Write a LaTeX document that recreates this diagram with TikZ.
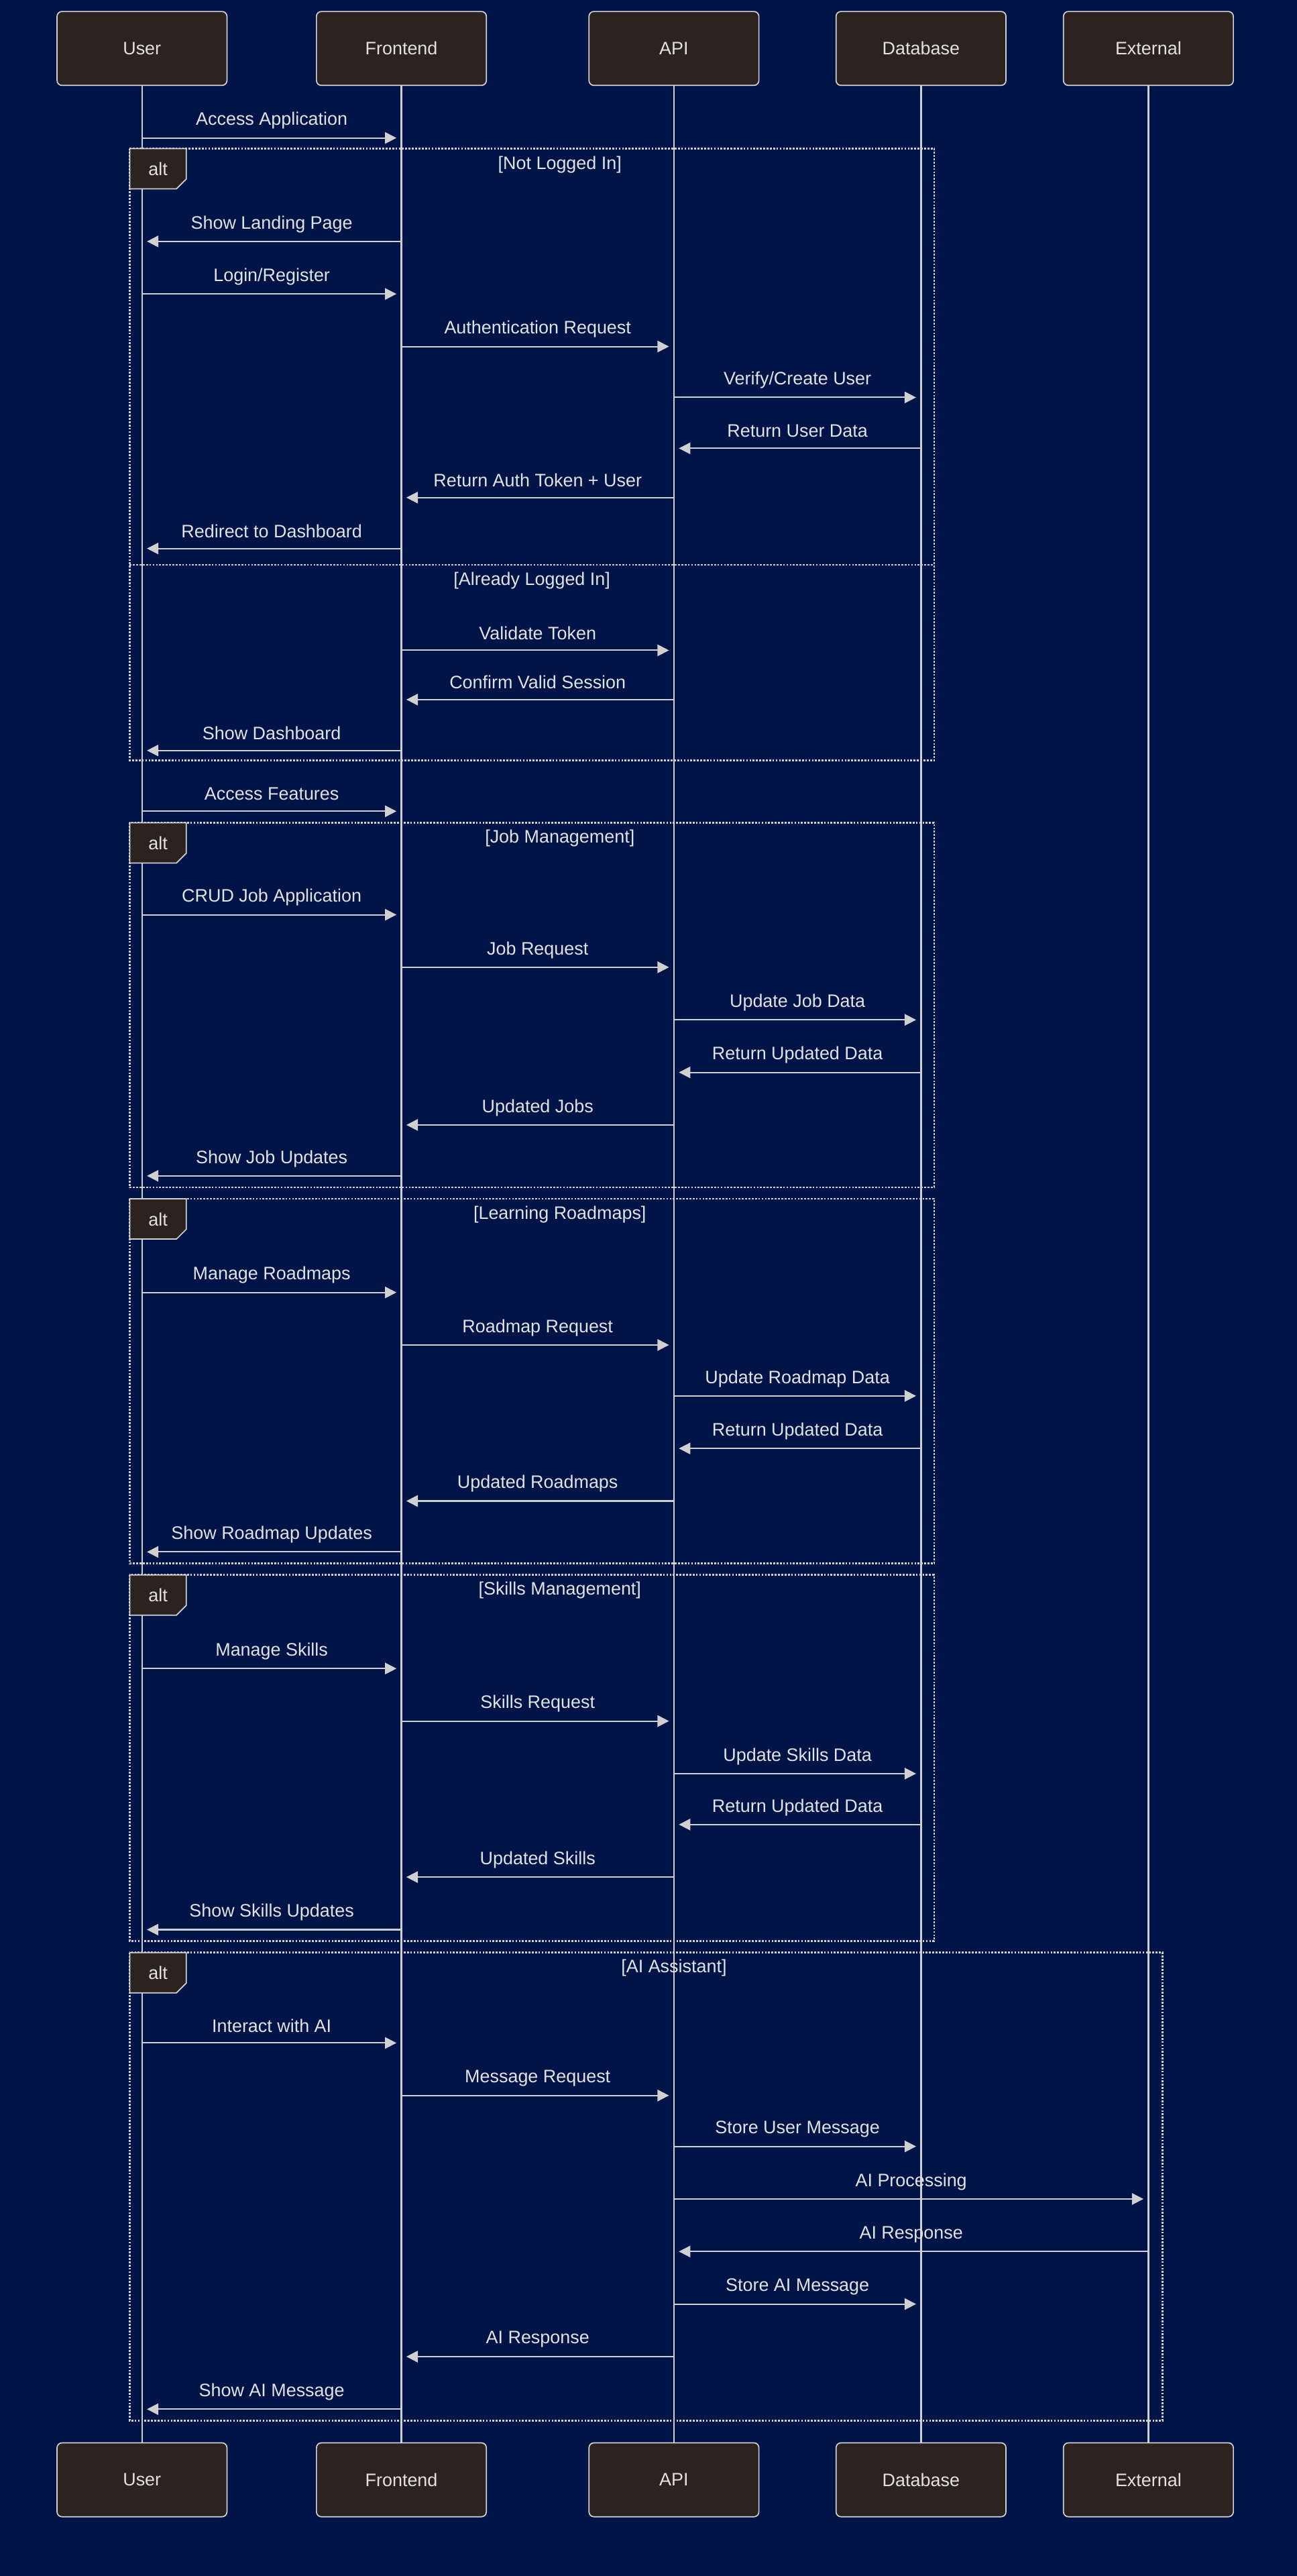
\documentclass[tikz,border=0pt]{standalone}
\usepackage{fontspec}
\setmainfont{Liberation Sans}
\usetikzlibrary{arrows.meta}
\definecolor{bg}{RGB}{1,20,72}
\definecolor{boxfill}{RGB}{44,34,32}
\definecolor{ln}{RGB}{208,208,208}
\definecolor{txt}{RGB}{226,226,226}
\newcommand\seqmsg[5]{%
  \coordinate (#5) at (0,#3);
  \draw[msgline] (#1 |- #5) -- (#2 |- #5) node[lbl, midway, yshift=10.5pt] (#5l) {#4};}
\newcommand\altframe[4]{% name, top, bottom, right
  \draw[frm] (79,#2) rectangle (#4,#3);
  \draw[altbox] (79,#2) -- (113.5,#2) -- (113.5,#2+18.5) -- (107.5,#2+24.5) -- (79,#2+24.5) -- cycle;
  \node[lbl] (#1) at (96.25,#2+12.5) {alt};}
\begin{document}
\begin{tikzpicture}[x=1pt,y=-1pt,
  part/.style={draw=ln, fill=boxfill, rounded corners=3pt, minimum width=103.5pt, minimum height=45pt, text=txt, font=\fontsize{11}{13}\selectfont, line width=0.7pt, inner sep=0pt},
  life/.style={draw=ln, line width=0.95pt},
  msgline/.style={draw=ln, line width=0.85pt, -{Triangle[length=7pt,width=7pt]}, shorten >=3pt},
  lbl/.style={text=txt, font=\fontsize{11}{13}\selectfont, inner sep=0pt},
  frm/.style={draw=ln, line width=1.1pt, dash pattern=on 1.1pt off 0.9pt},
  altbox/.style={draw=ln, fill=boxfill, line width=0.7pt}]
\fill[bg] (0,0) rectangle (790,1568.6);
\useasboundingbox (0,0) rectangle (790,1568.6);
% participants
\node[part] (uT) at (86.5,29.5) {User};
\node[part] (fT) at (244.5,29.5) {Frontend};
\node[part] (aT) at (410.5,29.5) {API};
\node[part] (dT) at (561,29.5) {Database};
\node[part] (eT) at (699.5,29.5) {External};
\node[part] (uB) at (86.5,1510) {User};
\node[part] (fB) at (244.5,1510) {Frontend};
\node[part] (aB) at (410.5,1510) {API};
\node[part] (dB) at (561,1510) {Database};
\node[part] (eB) at (699.5,1510) {External};
\foreach \p in {u,f,a,d,e}{\draw[life] (\p T.south) -- (\p B.north);}
% frames
\altframe{alt1}{90.5}{463}{569}
\draw[frm] (79,344) -- (569,344);
\node[lbl] (g1) at (341,100.5) {[Not Logged In]};
\node[lbl] (g1b) at (324,353.5) {[Already Logged In]};
\altframe{alt2}{501}{723}{569}
\node[lbl] (g2) at (341,510.5) {[Job Management]};
\altframe{alt3}{730}{952}{569}
\node[lbl] (g3) at (341,739.5) {[Learning Roadmaps]};
\altframe{alt4}{959}{1182}{569}
\node[lbl] (g4) at (341,968.5) {[Skills Management]};
\altframe{alt5}{1189}{1474}{708}
\node[lbl] (g5) at (410.5,1198.5) {[AI Assistant]};
% messages
\seqmsg{uT}{fT}{84}{Access Application}{m1}
\seqmsg{fT}{uT}{147}{Show Landing Page}{m2}
\seqmsg{uT}{fT}{179}{Login/Register}{m3}
\seqmsg{fT}{aT}{211}{Authentication Request}{m4}
\seqmsg{aT}{dT}{242}{Verify/Create User}{m5}
\seqmsg{dT}{aT}{273}{Return User Data}{m6}
\seqmsg{aT}{fT}{303}{Return Auth Token + User}{m7}
\seqmsg{fT}{uT}{334}{Redirect to Dashboard}{m8}
\seqmsg{fT}{aT}{396}{Validate Token}{m9}
\seqmsg{aT}{fT}{426}{Confirm Valid Session}{m10}
\seqmsg{fT}{uT}{457}{Show Dashboard}{m11}
\seqmsg{uT}{fT}{494}{Access Features}{m12}
\seqmsg{uT}{fT}{557}{CRUD Job Application}{m13}
\seqmsg{fT}{aT}{589}{Job Request}{m14}
\seqmsg{aT}{dT}{621}{Update Job Data}{m15}
\seqmsg{dT}{aT}{653}{Return Updated Data}{m16}
\seqmsg{aT}{fT}{685}{Updated Jobs}{m17}
\seqmsg{fT}{uT}{716}{Show Job Updates}{m18}
\seqmsg{uT}{fT}{787}{Manage Roadmaps}{m19}
\seqmsg{fT}{aT}{819}{Roadmap Request}{m20}
\seqmsg{aT}{dT}{850}{Update Roadmap Data}{m21}
\seqmsg{dT}{aT}{882}{Return Updated Data}{m22}
\seqmsg{aT}{fT}{914}{Updated Roadmaps}{m23}
\seqmsg{fT}{uT}{945}{Show Roadmap Updates}{m24}
\seqmsg{uT}{fT}{1016}{Manage Skills}{m25}
\seqmsg{fT}{aT}{1048}{Skills Request}{m26}
\seqmsg{aT}{dT}{1080}{Update Skills Data}{m27}
\seqmsg{dT}{aT}{1111}{Return Updated Data}{m28}
\seqmsg{aT}{fT}{1143}{Updated Skills}{m29}
\seqmsg{fT}{uT}{1175}{Show Skills Updates}{m30}
\seqmsg{uT}{fT}{1244}{Interact with AI}{m31}
\seqmsg{fT}{aT}{1276}{Message Request}{m32}
\seqmsg{aT}{dT}{1307}{Store User Message}{m33}
\seqmsg{aT}{eT}{1339}{AI Processing}{m34}
\seqmsg{eT}{aT}{1371}{AI Response}{m35}
\seqmsg{aT}{dT}{1403}{Store AI Message}{m36}
\seqmsg{aT}{fT}{1435}{AI Response}{m37}
\seqmsg{fT}{uT}{1467}{Show AI Message}{m38}
\end{tikzpicture}
\end{document}
